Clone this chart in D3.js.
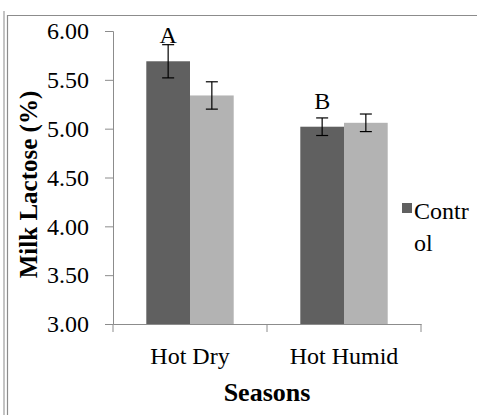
<!DOCTYPE html>
<html>
<head>
<meta charset="utf-8">
<script src="https://cdn.jsdelivr.net/npm/d3@7"></script>
<style>
  body { margin: 0; background: #fff; }
  svg { display: block; }
  svg text { font-family: "Liberation Serif", "Times New Roman", Times, Tinos, "DejaVu Serif", serif; }
</style>
</head>
<body>
<div id="chart"></div>
<script>
// --- DATA ---
const seasons = ["Hot Dry", "Hot Humid"];
const seriesNames = ["Control", "Treatment"];
const controlMeans = [5.69, 5.02];
const controlErrs = [0.17, 0.09];
const treatMeans = [5.34, 5.06];
const treatErrs = [0.14, 0.09];
const letters = ["A", "B"];          // significance letters over control bars
const letterAt = [5.88, 5.20];       // value where each letter sits
const yTicks = [3.0, 3.5, 4.0, 4.5, 5.0, 5.5, 6.0];

// --- LAYOUT ---
const WIDTH = 477, HEIGHT = 415;
const PLOT = { left: 113, right: 421, top: 31, bottom: 324 };
const COLORS = ["#606060", "#b3b3b3"];

const rows = seasons.map((s, i) => ({
  season: s,
  values: [
    { key: seriesNames[0], mean: controlMeans[i], err: controlErrs[i], letter: letters[i], letterAt: letterAt[i] },
    { key: seriesNames[1], mean: treatMeans[i], err: treatErrs[i] }
  ]
}));

const svg = d3.select("#chart").append("svg")
  .attr("width", WIDTH).attr("height", HEIGHT);

// outer chart frame
svg.append("line").attr("x1", 4).attr("x2", 4).attr("y1", 11).attr("y2", HEIGHT)
  .attr("stroke", "#b0b0b0").attr("stroke-width", 1.5);
svg.append("path").attr("d", `M7.5,${HEIGHT} V15.5 H${WIDTH}`)
  .attr("fill", "none").attr("stroke", "#8c8c8c").attr("stroke-width", 1.2);

const x0 = d3.scaleBand().domain(seasons)
  .range([PLOT.left, PLOT.right])
  .paddingInner(0.4325).paddingOuter(0.4325 / 2);
const x1 = d3.scaleBand().domain(seriesNames).range([0, x0.bandwidth()]);
const y = d3.scaleLinear().domain([3, 6]).range([PLOT.bottom, PLOT.top]);
const color = d3.scaleOrdinal().domain(seriesNames).range(COLORS);

// bars
const groups = svg.append("g").selectAll("g")
  .data(rows).join("g")
  .attr("transform", d => `translate(${x0(d.season)},0)`);

groups.selectAll("rect")
  .data(d => d.values).join("rect")
  .attr("x", d => x1(d.key))
  .attr("y", d => y(d.mean))
  .attr("width", x1.bandwidth())
  .attr("height", d => y(3) - y(d.mean))
  .attr("fill", d => color(d.key));

// error bars
const eb = groups.selectAll("g.err")
  .data(d => d.values).join("g").attr("class", "err")
  .attr("stroke", "#000").attr("stroke-width", 1.2);
const cx = d => x1(d.key) + x1.bandwidth() / 2;
eb.append("line").attr("x1", cx).attr("x2", cx)
  .attr("y1", d => y(d.mean + d.err)).attr("y2", d => y(d.mean - d.err));
eb.append("line").attr("x1", d => cx(d) - 6).attr("x2", d => cx(d) + 6)
  .attr("y1", d => y(d.mean + d.err)).attr("y2", d => y(d.mean + d.err));
eb.append("line").attr("x1", d => cx(d) - 6).attr("x2", d => cx(d) + 6)
  .attr("y1", d => y(d.mean - d.err)).attr("y2", d => y(d.mean - d.err));

// significance letters
groups.selectAll("text.letter")
  .data(d => d.values.filter(v => v.letter)).join("text")
  .attr("class", "letter")
  .attr("x", cx)
  .attr("y", d => y(d.letterAt))
  .attr("text-anchor", "middle")
  .attr("font-size", "24px")
  .text(d => d.letter);

// y axis
const yAxis = svg.append("g")
  .attr("transform", `translate(${PLOT.left},0)`)
  .call(d3.axisLeft(y).tickValues(yTicks).tickFormat(d3.format(".2f")).tickSize(8).tickPadding(16));
yAxis.attr("font-family", null);
yAxis.selectAll("path, line").attr("stroke", "#8c8c8c");
yAxis.selectAll("text").attr("font-size", "24px").attr("fill", "#000");

// x axis
const xAxis = svg.append("g")
  .attr("transform", `translate(0,${PLOT.bottom})`)
  .call(d3.axisBottom(x0).tickSize(0).tickPadding(0));
xAxis.attr("font-family", null);
xAxis.select(".domain").attr("stroke", "#8c8c8c");
xAxis.selectAll("text").attr("font-size", "24px")
  .attr("fill", "#000").attr("dy", null).attr("y", 40);
// category boundary ticks
const bounds = [PLOT.left, (PLOT.left + PLOT.right) / 2, PLOT.right];
xAxis.selectAll("line.bound").data(bounds).join("line")
  .attr("class", "bound")
  .attr("x1", d => d).attr("x2", d => d)
  .attr("y1", 0).attr("y2", 8)
  .attr("stroke", "#8c8c8c");

// axis titles
svg.append("text")
  .attr("transform", `translate(37,${(PLOT.top + PLOT.bottom) / 2 + 7}) rotate(-90)`)
  .attr("text-anchor", "middle")
  .attr("font-size", "25px").attr("font-weight", "bold")
  .text("Milk Lactose (%)");
svg.append("text")
  .attr("x", (PLOT.left + PLOT.right) / 2).attr("y", 401)
  .attr("text-anchor", "middle")
  .attr("font-size", "26px").attr("font-weight", "bold")
  .text("Seasons");

// legend (only the first entry is visible, wrapped)
const lg = svg.append("g").attr("transform", "translate(402,203)");
lg.append("rect").attr("width", 10).attr("height", 10).attr("fill", color(seriesNames[0]));
lg.append("text").attr("x", 12).attr("y", 16).attr("font-size", "24px").text("Contr");
lg.append("text").attr("x", 12).attr("y", 48).attr("font-size", "24px").text("ol");
</script>
</body>
</html>
